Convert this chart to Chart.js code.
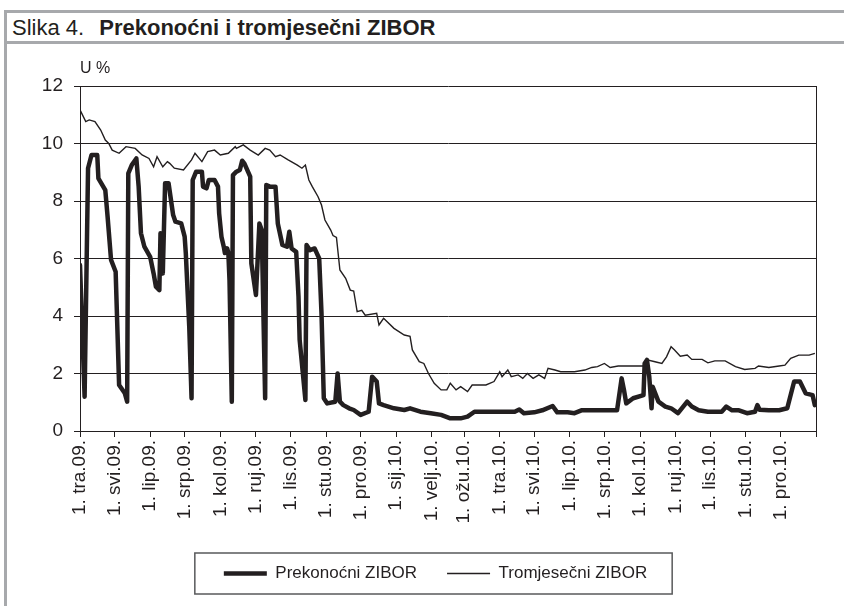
<!DOCTYPE html>
<html>
<head>
<meta charset="utf-8">
<script src="https://cdn.jsdelivr.net/npm/chart.js@4.4.1/dist/chart.umd.min.js"></script>
<style>
  html, body { margin: 0; padding: 0; background: #fff; }
  #wrap { position: relative; width: 844px; height: 606px; overflow: hidden; font-family: "Liberation Sans", Arial, sans-serif; color: #231f20; }
  #frame { position: absolute; left: 4px; top: 10px; right: 0; bottom: 0; border-top: 3px solid #a7a9ac; border-left: 3px solid #a7a9ac; }
  #title { position: absolute; left: 7px; top: 13px; right: 0; height: 28px; border-bottom: 3px solid #a7a9ac; font-size: 22px; line-height: 30px; padding-left: 5px; white-space: nowrap; }
  #title b { margin-left: 9px; }
  #unit { position: absolute; left: 80px; top: 59px; font-size: 16px; }
  canvas { position: absolute; left: 0; top: 0; }
</style>
</head>
<body>
<div id="wrap">
  <div id="frame"></div>
  <div id="title">Slika 4. <b>Prekonoćni i tromjesečni ZIBOR</b></div>
  <canvas id="chart" width="844" height="606"></canvas>
  <div id="unit">U %</div>
</div>
<script>
// x values are days counted from 1 Apr 2009
const monthLabels = ['1. tra.09.', '1. svi.09.', '1. lip.09.', '1. srp.09.', '1. kol.09.', '1. ruj.09.',
  '1. lis.09.', '1. stu.09.', '1. pro.09.', '1. sij.10.', '1. velj.10.', '1. ožu.10.', '1. tra.10.',
  '1. svi.10.', '1. lip.10.', '1. srp.10.', '1. kol.10.', '1. ruj.10.', '1. lis.10.', '1. stu.10.', '1. pro.10.'];
const monthStartDays = [0, 30, 61, 91, 122, 153, 183, 214, 244, 275, 306, 334, 365, 395, 426, 456, 487, 518, 548, 579, 609, 640];

// Prekonočni ZIBOR (overnight)
const overnightDays = [
  0, 4, 7, 10, 15, 16, 22, 24, 27, 31,
  34, 39, 41, 42, 45, 49, 51, 53, 56, 61,
  64, 66, 69, 70, 72, 74, 77, 81, 83, 88,
  91, 92, 95, 97, 98, 101, 106, 107, 110, 112,
  117, 120, 121, 123, 125, 126, 128, 129, 130, 132,
  133, 136, 139, 141, 143, 148, 149, 153, 156, 158,
  161, 162, 165, 170, 172, 176, 180, 182, 184, 188,
  190, 191, 196, 197, 200, 204, 208, 210, 212, 215,
  222, 224, 226, 229, 234, 238, 244, 251, 254, 258,
  260, 264, 273, 282, 287, 296, 305, 314, 322, 331,
  337, 343, 349, 378, 382, 386, 395, 402, 411, 415,
  424, 430, 436, 467, 471, 473, 475, 481, 490, 491,
  493, 495, 497, 498, 503, 509, 514, 520, 528, 532,
  538, 546, 558, 562, 567, 573, 580, 587, 589, 591,
  599, 608, 615, 621, 626, 631, 637, 639];
const overnightRates = [
  5.77, 1.19, 9.14, 9.6, 9.6, 8.79, 8.38, 7.45, 5.95, 5.54,
  1.6, 1.31, 1.02, 8.96, 9.25, 9.48, 8.5, 6.88, 6.41, 6.06,
  5.48, 5.02, 4.9, 6.88, 5.48, 8.62, 8.62, 7.51, 7.28, 7.22,
  6.76, 6.19, 3.63, 1.14, 8.73, 9.02, 9.02, 8.5, 8.44, 8.73,
  8.73, 8.5, 7.57, 6.76, 6.41, 6.19, 6.35, 6.19, 5.25, 1.02,
  8.9, 9.02, 9.08, 9.4, 9.3, 8.85, 5.83, 4.73, 7.22, 6.99,
  1.14, 8.56, 8.5, 8.5, 7.22, 6.47, 6.41, 6.93, 6.35, 6.23,
  4.67, 3.17, 1.08, 6.47, 6.29, 6.35, 6.0, 4.09, 1.14, 0.96,
  1.02, 2.0, 1.02, 0.9, 0.79, 0.73, 0.56, 0.67, 1.89, 1.72,
  0.96, 0.9, 0.79, 0.73, 0.79, 0.67, 0.62, 0.56, 0.44, 0.44,
  0.5, 0.67, 0.67, 0.67, 0.75, 0.62, 0.65, 0.72, 0.87, 0.65,
  0.65, 0.62, 0.72, 0.72, 1.83, 1.43, 0.96, 1.14, 1.25, 2.35,
  2.47, 1.89, 0.79, 1.54, 1.02, 0.85, 0.79, 0.62, 1.02, 0.85,
  0.72, 0.67, 0.67, 0.85, 0.72, 0.72, 0.62, 0.67, 0.9, 0.74,
  0.72, 0.72, 0.79, 1.72, 1.72, 1.31, 1.25, 0.9];

// Tromjesečni ZIBOR (3 months)
const threeMonthDays = [
  0, 5, 8, 13, 18, 22, 25, 28, 34, 40,
  48, 54, 60, 64, 67, 72, 76, 78, 82, 90,
  97, 100, 106, 111, 117, 122, 129, 135, 136, 142,
  148, 155, 161, 165, 170, 174, 181, 189, 193, 196,
  199, 202, 207, 210, 213, 218, 220, 223, 226, 231,
  235, 238, 241, 245, 248, 258, 260, 264, 273, 282,
  287, 289, 295, 299, 303, 308, 314, 319, 322, 327,
  331, 337, 341, 353, 360, 365, 367, 372, 375, 381,
  385, 389, 394, 399, 404, 407, 413, 418, 430, 439,
  445, 450, 456, 461, 468, 491, 494, 500, 506, 510,
  514, 517, 522, 528, 532, 541, 546, 552, 561, 570,
  578, 587, 590, 599, 608, 613, 618, 625, 634, 639];
const threeMonthRates = [
  11.17, 10.76, 10.82, 10.76, 10.47, 10.12, 10.0, 9.77, 9.66, 9.89,
  9.83, 9.6, 9.48, 9.19, 9.54, 9.19, 9.37, 9.31, 9.14, 9.08,
  9.43, 9.66, 9.37, 9.72, 9.77, 9.6, 9.66, 9.89, 9.83, 9.95,
  9.77, 9.6, 9.83, 9.77, 9.54, 9.6, 9.43, 9.25, 9.14, 9.25,
  8.73, 8.5, 8.15, 7.86, 7.34, 6.99, 6.8, 6.73, 5.6, 5.31,
  4.9, 4.87, 4.15, 4.2, 4.03, 4.09, 3.69, 3.92, 3.57, 3.34,
  3.29, 2.82, 2.41, 2.35, 2.0, 1.66, 1.43, 1.43, 1.66, 1.43,
  1.54, 1.37, 1.6, 1.6, 1.72, 2.06, 1.89, 2.12, 1.89, 1.95,
  1.83, 2.0, 1.83, 1.95, 1.83, 2.18, 2.12, 2.06, 2.06, 2.12,
  2.21, 2.24, 2.35, 2.21, 2.26, 2.26, 2.47, 2.41, 2.35, 2.58,
  2.93, 2.82, 2.6, 2.64, 2.49, 2.49, 2.37, 2.44, 2.44, 2.24,
  2.14, 2.18, 2.26, 2.21, 2.26, 2.29, 2.53, 2.64, 2.64, 2.7];

const ink = '#231f20';
const tickFont = { family: '"Liberation Sans", Arial, sans-serif', size: 19 };
const toPoints = (days, vals) => days.map((d, i) => ({ x: d, y: vals[i] }));

// box around the legend, like the original
const legendFrame = {
  id: 'legendFrame',
  afterDraw(chart) {
    const hb = chart.legend && chart.legend.legendHitBoxes;
    if (!hb || !hb.length) return;
    const first = hb[0], last = hb[hb.length - 1];
    const cy = first.top + first.height / 2;
    const left = first.left - 29;
    const right = last.left + last.width + 25;
    const ctx = chart.ctx;
    ctx.save();
    ctx.strokeStyle = '#58595b';
    ctx.lineWidth = 1.5;
    ctx.strokeRect(left, cy - 20.5, right - left, 41);
    ctx.restore();
  }
};

new Chart(document.getElementById('chart'), {
  type: 'line',
  data: {
    datasets: [
      {
        label: 'Prekonoćni ZIBOR',
        data: toPoints(overnightDays, overnightRates),
        borderColor: ink,
        borderWidth: 4.5,
        pointBorderWidth: 4.5,
        pointBorderColor: ink,
        pointRadius: 0,
        tension: 0,
        borderJoinStyle: 'round',
        borderCapStyle: 'round'
      },
      {
        label: 'Tromjesečni ZIBOR',
        data: toPoints(threeMonthDays, threeMonthRates),
        borderColor: ink,
        borderWidth: 1.4,
        pointBorderWidth: 1.4,
        pointBorderColor: ink,
        pointRadius: 0,
        tension: 0
      }
    ]
  },
  options: {
    responsive: false,
    animation: false,
    layout: { padding: { left: 27, right: 0, top: 86, bottom: 14 } },
    scales: {
      x: {
        type: 'linear',
        min: 0,
        max: 640,
        afterBuildTicks: (scale) => { scale.ticks = monthStartDays.map(v => ({ value: v })); },
        afterFit: (scale) => { scale.height = 104; },
        grid: { drawOnChartArea: false, color: ink, tickLength: 6 },
        border: { color: ink, width: 1 },
        ticks: {
          autoSkip: false,
          minRotation: 90,
          maxRotation: 90,
          padding: 3,
          color: ink,
          font: tickFont,
          callback: (value, index) => monthLabels[index] || ''
        }
      },
      y: {
        min: 0,
        max: 12,
        afterFit: (scale) => { scale.width = 53; },
        grid: { color: ink, lineWidth: 1, tickLength: 6 },
        border: { color: ink, width: 1 },
        ticks: {
          stepSize: 2,
          padding: 11,
          color: ink,
          font: tickFont
        }
      },
      y2: {
        position: 'right',
        min: 0,
        max: 12,
        afterFit: (scale) => { scale.width = 28; },
        grid: { display: false },
        ticks: { display: false },
        border: { color: ink, width: 1 }
      }
    },
    plugins: {
      legend: {
        position: 'bottom',
        labels: {
          usePointStyle: true,
          pointStyle: 'line',
          pointStyleWidth: 43,
          padding: 30,
          color: ink,
          font: { family: '"Liberation Sans", Arial, sans-serif', size: 17 }
        }
      },
      tooltip: { enabled: false }
    }
  },
  plugins: [legendFrame]
});
</script>
</body>
</html>
